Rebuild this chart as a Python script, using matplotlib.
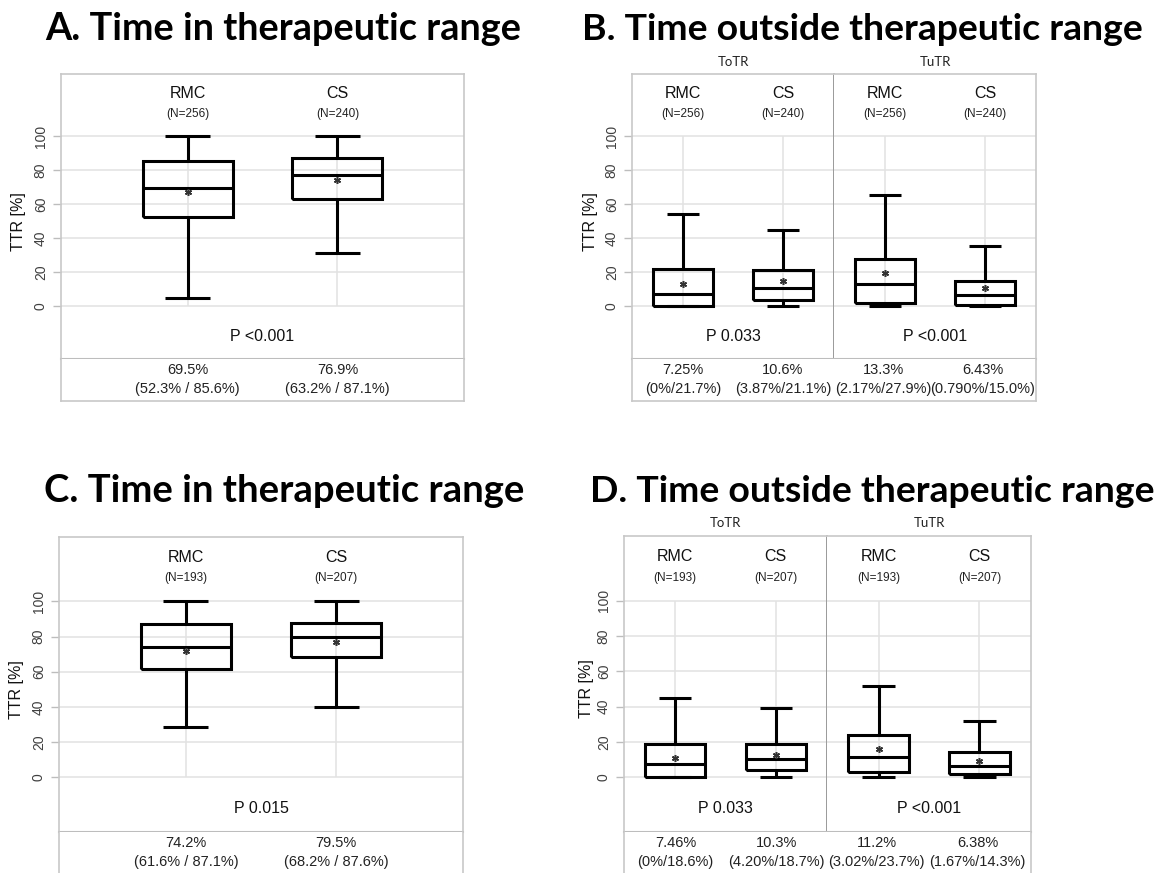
import matplotlib
matplotlib.use('Agg')
import matplotlib.pyplot as plt
import matplotlib.transforms as mtransforms

plt.rcParams['font.family'] = ['Liberation Sans', 'DejaVu Sans']

W, H, DPI = 1159, 873, 100

# ---------------- data ----------------
groups = ['RMC', 'CS']
facets = ['ToTR', 'TuTR']

# Panel A: time in therapeutic range (cohort 1)
A_n = [256, 240]
A_whislo = [4.7, 31.5]
A_q1 = [52.3, 63.2]
A_med = [69.5, 76.9]
A_q3 = [85.6, 87.1]
A_whishi = [100, 100]
A_mean = [67.2, 74.4]
A_p = 'P <0.001'

# Panel B: time outside therapeutic range (cohort 1)
B_n = [256, 240]
B_totr_whislo = [0, 0]
B_totr_q1 = [0, 3.87]
B_totr_med = [7.25, 10.6]
B_totr_q3 = [21.7, 21.1]
B_totr_whishi = [54.3, 45.1]
B_totr_mean = [13.1, 14.6]
B_tutr_whislo = [0, 0]
B_tutr_q1 = [2.17, 0.79]
B_tutr_med = [13.3, 6.43]
B_tutr_q3 = [27.9, 15.0]
B_tutr_whishi = [65.6, 35.7]
B_tutr_mean = [19.5, 10.7]
B_p = ['P 0.033', 'P <0.001']

# Panel C: time in therapeutic range (cohort 2)
C_n = [193, 207]
C_whislo = [28.7, 39.8]
C_q1 = [61.6, 68.2]
C_med = [74.2, 79.5]
C_q3 = [87.1, 87.6]
C_whishi = [100, 100]
C_mean = [71.7, 76.8]
C_p = 'P 0.015'

# Panel D: time outside therapeutic range (cohort 2)
D_n = [193, 207]
D_totr_whislo = [0, 0]
D_totr_q1 = [0, 4.20]
D_totr_med = [7.46, 10.3]
D_totr_q3 = [18.6, 18.7]
D_totr_whishi = [44.9, 38.9]
D_totr_mean = [11.1, 12.8]
D_tutr_whislo = [0, 0]
D_tutr_q1 = [3.02, 1.67]
D_tutr_med = [11.2, 6.38]
D_tutr_q3 = [23.7, 14.3]
D_tutr_whishi = [51.9, 31.9]
D_tutr_mean = [16.0, 9.4]
D_p = ['P 0.033', 'P <0.001']

titles = ['A. Time in therapeutic range', 'B. Time outside therapeutic range',
          'C. Time in therapeutic range', 'D. Time outside therapeutic range']
y_ticks = [0, 20, 40, 60, 80, 100]
y_label = 'TTR [%]'

# ---------------- styling ----------------
GRID = '#e2e2e2'
BORDER = '#c8c8c8'
SEP = '#9a9a9a'
YLIM = (-31, 136.5)

fig = plt.figure(figsize=(W / DPI, H / DPI), dpi=DPI)


def px_axes(x0, y0, x1, y1):
    return fig.add_axes([x0 / W, 1 - y1 / H, (x1 - x0) / W, (y1 - y0) / H])


def fmt(v):
    return '0%' if v == 0 else f'{v:#.3g}%'


def box_axes(ax, whislo, q1, med, q3, whishi, mean, n, p_text, xlim, width, capw, first):
    pos = [1, 2]
    stats = [dict(whislo=whislo[i], q1=q1[i], med=med[i], q3=q3[i], whishi=whishi[i],
                  mean=mean[i], fliers=[]) for i in range(2)]
    lp = dict(color='black', linewidth=2.2, solid_joinstyle='miter', solid_capstyle='butt')
    ax.bxp(stats, positions=pos, widths=width, capwidths=capw, showmeans=True,
           showfliers=False, boxprops=lp, whiskerprops=lp, capprops=lp, medianprops=lp,
           meanprops=dict(marker=(6, 2, 0), markersize=5, markeredgecolor='#333333',
                          markeredgewidth=1.1, markerfacecolor='#333333'),
           manage_ticks=False, zorder=3)
    ax.set_xlim(*xlim)
    ax.set_ylim(*YLIM)
    ax.set_xticks([])
    ax.set_yticks(y_ticks)
    ax.grid(axis='y', color=GRID, linewidth=1.1)
    ax.set_axisbelow(True)
    ax.vlines(pos, 0, 100, color=GRID, linewidth=1.1, zorder=0)
    for s in ax.spines.values():
        s.set_color(BORDER)
        s.set_linewidth(1.2)
    ax.spines['bottom'].set_color('#bdbdbd')
    ax.spines['bottom'].set_linewidth(1.5)
    for x, g, nn in zip(pos, groups, n):
        ax.text(x, 125, g, ha='center', va='center', fontsize=11.5, color='#111111')
        ax.text(x, 113, f'(N={nn})', ha='center', va='center', fontsize=8.5, color='#222222')
    ax.text(sum(pos) / 2, -17.5, p_text, ha='center', va='center', fontsize=11.5, color='#111111')
    if first:
        ax.tick_params(axis='y', length=5.5, width=1, color='#bdbdbd', labelsize=10,
                       labelcolor='#404040', pad=4)
        for lab in ax.get_yticklabels():
            lab.set_rotation(90)
            lab.set_va('center')
    else:
        ax.tick_params(axis='y', left=False, labelleft=False)


def strip_axes(ax, xs, meds, q1s, q3s, xlim, sep):
    ax.set_xlim(*xlim)
    ax.set_ylim(0, 1)
    ax.set_xticks([])
    ax.set_yticks([])
    for k, s in ax.spines.items():
        s.set_color(BORDER)
        s.set_linewidth(1.2)
    ax.spines['top'].set_visible(False)
    for x, m, a, b in zip(xs, meds, q1s, q3s):
        ax.text(x, 0.74, fmt(m), ha='center', va='center', fontsize=10.5, color='#222222')
        ax.text(x, 0.29, f'({fmt(a)}{sep}{fmt(b)})', ha='center', va='center',
                fontsize=10.5, color='#222222')


def ylabel_at(ax, xpx):
    tr = mtransforms.blended_transform_factory(fig.transFigure, ax.transData)
    ax.text(xpx / W, 50, y_label, transform=tr, rotation=90, ha='center', va='center',
            fontsize=11.5, color='#111111')


# ---------- Panel A ----------
XL1 = (0.155, 2.845)
axA = px_axes(61, 74, 464, 359)
box_axes(axA, A_whislo, A_q1, A_med, A_q3, A_whishi, A_mean, A_n, A_p, XL1, 0.6, 0.3, True)
ylabel_at(axA, 18)
stA = px_axes(61, 359, 464, 401)
strip_axes(stA, [1, 2], A_med, A_q1, A_q3, XL1, ' / ')

# ---------- Panel C ----------
axC = px_axes(59, 537, 463, 832)
box_axes(axC, C_whislo, C_q1, C_med, C_q3, C_whishi, C_mean, C_n, C_p, XL1, 0.6, 0.3, True)
ylabel_at(axC, 17)
stC = px_axes(59, 832, 463, 874)
strip_axes(stC, [1, 2], C_med, C_q1, C_q3, XL1, ' / ')

# ---------- Panels B and D (faceted) ----------
XL2 = (0.49, 2.51)


def faceted(xa, xm, xb, ytop, ybot, yfacet, ylab_x, n, totr, tutr, p):
    ax1 = px_axes(xa, ytop, xm, ybot)
    ax2 = px_axes(xm, ytop, xb, ybot)
    box_axes(ax1, *totr, n, p[0], XL2, 0.6, 0.32, True)
    box_axes(ax2, *tutr, n, p[1], XL2, 0.6, 0.32, False)
    ax1.spines['right'].set_color(SEP)
    ax1.spines['right'].set_linewidth(1.4)
    ax2.spines['left'].set_visible(False)
    ylabel_at(ax1, ylab_x)
    for f, (l, r) in zip(facets, [(xa, xm), (xm, xb)]):
        fig.text((l + r) / 2 / W, 1 - yfacet / H, f, ha='center', va='center',
                 fontsize=9.5, family=['Lato', 'DejaVu Sans'], color='#222222')
    st = px_axes(xa, ybot, xb, ybot + 42)
    strip_axes(st, [1, 2, 3, 4], list(totr[2]) + list(tutr[2]),
               list(totr[1]) + list(tutr[1]), list(totr[3]) + list(tutr[3]),
               (0.49, 4.53), '/')


faceted(632, 834, 1036, 74, 359, 62, 591, B_n,
        (B_totr_whislo, B_totr_q1, B_totr_med, B_totr_q3, B_totr_whishi, B_totr_mean),
        (B_tutr_whislo, B_tutr_q1, B_tutr_med, B_tutr_q3, B_tutr_whishi, B_tutr_mean), B_p)
faceted(624, 827, 1031, 536, 832, 523, 586, D_n,
        (D_totr_whislo, D_totr_q1, D_totr_med, D_totr_q3, D_totr_whishi, D_totr_mean),
        (D_tutr_whislo, D_tutr_q1, D_tutr_med, D_tutr_q3, D_tutr_whishi, D_tutr_mean), D_p)

# ---------- Titles (fit to reference widths) ----------
title_geom = [(283, 40, 477), (862, 40, 561), (284, 502, 480), (872, 502, 565)]
renderer = fig.canvas.get_renderer()
for t, (cx, by, wpx) in zip(titles, title_geom):
    txt = fig.text(cx / W, 1 - by / H, t, ha='center', va='baseline', fontsize=26,
                   family=['Lato', 'DejaVu Sans'], fontweight='bold', color='black')
    bb = txt.get_window_extent(renderer)
    txt.set_fontsize(26 * wpx / bb.width)

fig.savefig('out.png', dpi=DPI, facecolor='white')
